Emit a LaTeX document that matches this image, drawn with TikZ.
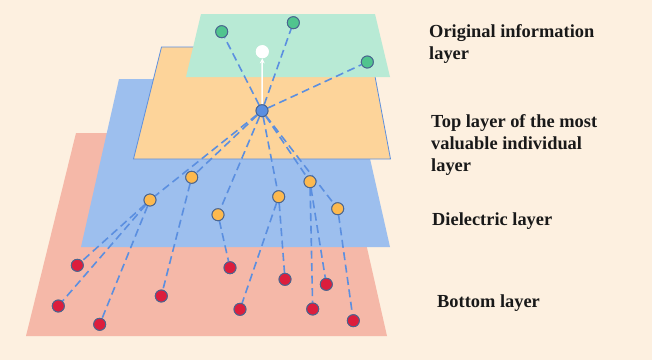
\documentclass[tikz,border=0pt]{standalone}
\usepackage{fontspec}
\setmainfont{Liberation Serif}
\usetikzlibrary{arrows.meta}
\definecolor{bgc}{HTML}{FDF0E0}
\definecolor{greenl}{HTML}{B8EAD5}
\definecolor{orangel}{HTML}{FDD49A}
\definecolor{bluel}{HTML}{9DBFEE}
\definecolor{redl}{HTML}{F5B8A8}
\definecolor{edgec}{HTML}{5B8FE0}
\definecolor{outl}{HTML}{4A6590}
\definecolor{gnode}{HTML}{50C48E}
\definecolor{onode}{HTML}{FDB94E}
\definecolor{rnode}{HTML}{DC1E3C}
\definecolor{bnode}{HTML}{5B8FE0}
\tikzset{
  dot/.style={circle,draw=outl,line width=0.9pt,inner sep=0pt,minimum size=12pt},
  gdot/.style={dot,fill=gnode},
  odot/.style={dot,fill=onode},
  rdot/.style={dot,fill=rnode},
  bdot/.style={dot,fill=bnode},
  wdot/.style={circle,fill=white,inner sep=0pt,minimum size=13pt},
  link/.style={draw=edgec,line width=1.6pt,dash pattern=on 8pt off 4.5pt},
  lbl/.style={anchor=north west,inner sep=0pt,align=left,font=\fontsize{18.4}{22}\selectfont\bfseries,text=black!90}
}
\begin{document}
\begin{tikzpicture}[x=1pt,y=-1pt]
\fill[bgc] (0,0) rectangle (652,360);
\useasboundingbox (0,0) rectangle (652,360);
% planes
\fill[redl] (76,133) -- (341,133) -- (387,336) -- (26,336) -- cycle;
\fill[bluel] (119,79) -- (352,79) -- (390,247) -- (81,247) -- cycle;
\fill[orangel,draw=edgec,line width=0.8pt] (161.5,47) -- (369.5,47) -- (390.5,159) -- (133.5,159) -- cycle;
\fill[greenl] (201,14) -- (375,14) -- (390,77) -- (186,77) -- cycle;
% nodes
\node[bdot] (c) at (262,110.7) {};
\node[wdot] (w) at (262.3,51.7) {};
\node[gdot] (g1) at (221.7,31.7) {};
\node[gdot] (g2) at (293.3,22.7) {};
\node[gdot] (g3) at (367.3,62) {};
\node[odot] (o1) at (191.7,177.3) {};
\node[odot] (o2) at (150,200) {};
\node[odot] (o3) at (218,214.7) {};
\node[odot] (o4) at (278.7,196.7) {};
\node[odot] (o5) at (310,181.7) {};
\node[odot] (o6) at (337.7,208.7) {};
\node[rdot] (r1) at (77.3,265.3) {};
\node[rdot] (r2) at (58.3,306) {};
\node[rdot] (r3) at (99.7,324.3) {};
\node[rdot] (r4) at (161.3,296) {};
\node[rdot] (r5) at (230,267.7) {};
\node[rdot] (r6) at (240,309.3) {};
\node[rdot] (r7) at (285,279.3) {};
\node[rdot] (r8) at (326.3,284.3) {};
\node[rdot] (r9) at (312.7,309) {};
\node[rdot] (r10) at (353.3,320.7) {};
% links
\foreach \t in {g1,g2,g3,o1,o2,o3,o4,o5,o6}{\path[link] (c) -- (\t);}
\foreach \s/\t in {o2/r1,o2/r2,o2/r3,o1/r4,o3/r5,o4/r6,o4/r7,o5/r8,o5/r9,o6/r10}{\path[link] (\s) -- (\t);}
\draw[white,line width=1.5pt,-{Stealth[length=5pt,width=5pt]}] (c) -- (w);
% redraw nodes on top of links
\node[bdot] at (c) {};
\node[wdot] at (w) {};
\foreach \n in {g1,g2,g3}{\node[gdot] at (\n) {};}
\foreach \n in {o1,o2,o3,o4,o5,o6}{\node[odot] at (\n) {};}
\foreach \n in {r1,r2,r3,r4,r5,r6,r7,r8,r9,r10}{\node[rdot] at (\n) {};}
% labels
\node[lbl] (t1) at (429,24.5) {Original information\\layer};
\node[lbl] (t2) at (431,114.5) {Top layer of the most\\valuable individual\\layer};
\node[lbl] (t3) at (432,212.5) {Dielectric layer};
\node[lbl] (t4) at (437,294.5) {Bottom layer};
\end{tikzpicture}
\end{document}
